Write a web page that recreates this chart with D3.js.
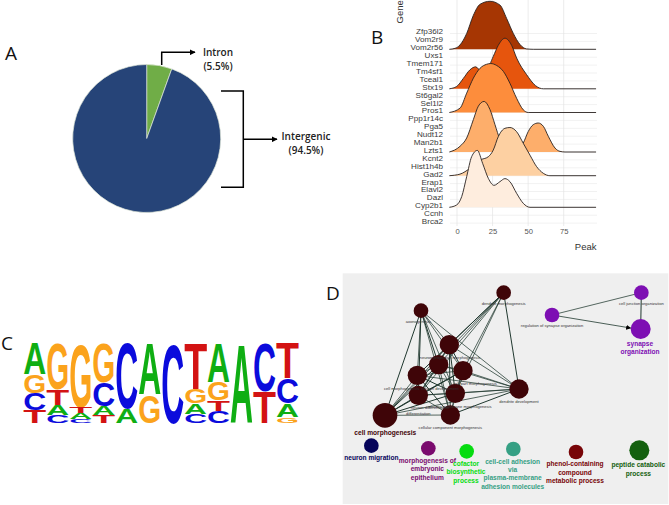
<!DOCTYPE html>
<html><head><meta charset="utf-8">
<script src="https://cdn.jsdelivr.net/npm/d3@7"></script>
<style>html,body{margin:0;padding:0;background:#fff}svg{display:block}</style>
</head><body><svg id="c" width="669" height="505"></svg>
<script>
// ---------- Panel A
const pieNames = ["Intron","Intergenic"];
const pieValues = [5.5,94.5];
const pieColors = ["#70ad47","#264478"];
// ---------- Panel B
const genes = ["Zfp36l2","Vom2r9","Vom2r56","Uxs1","Tmem171","Tm4sf1","Tceal1","Stx19","St6gal2","Sel1l2","Pros1","Ppp1r14c","Pga5","Nudt12","Man2b1","Lzts1","Kcnt2","Hist1h4b","Gad2","Erap1","Elavl2","Dazl","Cyp2b1","Ccnh","Brca2"];
const peakTicks = [0,25,50,75];
const ridgeGenes = ["Vom2r56","Stx19","Pros1","Lzts1","Gad2","Cyp2b1"];
const ridgeColors = ["#a63603","#e6550d","#fd8d3c","#fdae6b","#fdd0a2","#feedde"];
const ridgeVom2r56 = [[-5.4,0],[-1.4,.12],[2.1,.55],[6.8,2],[11.5,4.3],[16.2,5.7],[23.2,6.08],[30.2,5.6],[34.9,3.9],[39.6,2],[44.3,.6],[48.9,.05],[53.6,0],[97.7,0]];
const ridgeStx19 = [[-5.4,0],[-.2,.3],[4.4,1.3],[9.1,2.4],[13.1,2.78],[17.3,2.2],[20.8,2.4],[25.5,4.1],[29,5.5],[33.7,6.4],[38.4,5.5],[41.9,3.9],[48.9,1.8],[55.2,.4],[60.7,0],[97.7,0]];
const ridgePros1 = [[-5.4,0],[2.1,.55],[6.8,2.45],[11.5,4.35],[16.2,5.6],[20.8,6.1],[23.7,6.2],[27.9,5.95],[32.6,5.2],[37.2,3.7],[41.9,1.8],[46.6,.34],[50.1,0],[97.7,0]];
const ridgeLzts1 = [[-5.4,0],[2.1,.72],[6.8,1.77],[11.5,4.1],[15,5.8],[19,6.4],[23.2,5.36],[26.7,3.46],[30.2,1.56],[34.9,.3],[41.9,.08],[46.6,1.14],[50.1,2.6],[53.6,3.46],[57.1,3.67],[60.7,3.25],[64.2,1.98],[68.9,.5],[72.4,.08],[75.9,0],[97.7,0]];
const ridgeGad2 = [[-5.4,0],[2.1,.2],[9.1,.93],[16.2,1.98],[22,2.4],[25.5,3.25],[29,4.94],[33.7,6],[37.2,6.1],[41.9,5.57],[46.6,4.1],[51.3,2.6],[56,1.14],[60.7,.3],[65.3,0],[97.7,0]];
const ridgeCyp2b1 = [[-5.4,0],[-.2,.3],[3.3,1.35],[6.8,3.88],[10.3,6.41],[14.3,7.2],[18,5.57],[22,3.67],[26,2.78],[30.2,3.25],[33.7,3.63],[37.2,3.25],[41.9,1.77],[46.6,.5],[51.3,0],[97.7,0]];
const ridgeSeries = [ridgeVom2r56,ridgeStx19,ridgePros1,ridgeLzts1,ridgeGad2,ridgeCyp2b1];
// ---------- Panel C (each position, top to bottom: letter, fraction)
const logoColumns = [
 [["A",.40],["G",.23],["C",.21],["T",.16]],
 [["G",.58],["T",.20],["A",.13],["C",.09]],
 [["G",.80],["T",.08],["A",.08],["C",.04]],
 [["G",.50],["C",.29],["A",.11],["T",.10]],
 [["C",.82],["A",.18]],
 [["A",.65],["G",.35]],
 [["C",1]],
 [["T",.58],["G",.18],["A",.13],["C",.11]],
 [["A",.49],["G",.23],["T",.13],["C",.15]],
 [["A",1]],
 [["C",.61],["T",.39]],
 [["T",.44],["C",.32],["A",.17],["G",.07]]
];
const logoColors = {A:"#0fae13",C:"#0b0bdc",G:"#fba31c",T:"#d31313"};
// ---------- Panel D (layout units)
const nodeNames = ["dendrite morphogenesis","axonogenesis","neuron projection morphogenesis","neuron development","cell part morphogenesis","cell morphogenesis involved in neuron differentiation","neuron differentiation","plasma membrane bounded cell projection morphogenesis","dendrite development","cell morphogenesis","cellular component morphogenesis","regulation of synapse organization","cell junction organization","synapse organization","neuron migration","morphogenesis of embryonic epithelium","cofactor biosynthetic process","cell-cell adhesion via plasma-membrane adhesion molecules","phenol-containing compound metabolic process","peptide catabolic process"];
const nodeX = [491,243,328,296,369,232,235,346,537,135,331,636,904,902,94,265,380,520,708,898];
const nodeY = [68,122,224,284,302,316,376,370,357,436,435,135,68,177,527,535,544,537,546,541];
const nodeR = [22,22,29,29,29,29,29,29,29,37,29,22,22,30,22,22,22,22,22,30];
const nodeColors = ["#3f0508","#3f0508","#3f0508","#3f0508","#3f0508","#3f0508","#3f0508","#3f0508","#3f0508","#3f0508","#3f0508","#7d0fb3","#7d0fb3","#7d0fb3","#06045a","#7a0a6e","#06dc10","#36a084","#780508","#14600f"];
const edges = [[0,2],[0,3],[0,4],[0,5],[0,6],[0,7],[0,8],[0,9],[1,2],[1,3],[1,4],[1,5],[1,6],[1,7],[1,8],[1,9],[1,10],[2,3],[2,4],[2,5],[2,6],[2,7],[2,8],[2,9],[2,10],[3,4],[3,5],[3,6],[3,7],[3,8],[3,9],[3,10],[4,5],[4,6],[4,7],[4,8],[4,9],[4,10],[5,6],[5,7],[5,8],[5,9],[5,10],[6,7],[6,8],[6,9],[6,10],[7,8],[7,9],[7,10],[8,9],[8,10],[9,10],[11,12],[12,13]];
const arrowEdges = [[11,13]];
const smallLabels = [["dendrite morphogenesis",491,100],["axonogenesis",235,153],["neuron projection morphogenesis",330,262],["cell morphogenesis",185,355],["neuron development",300,355],["cell part morphogenesis",405,341],["plasma membrane morphogenesis",360,409],["differentiation",235,430],["neuron differentiation",270,413],["dendrite development",537,395],["cellular component morphogenesis",331,472],["regulation of synapse organization",636,166],["cell junction organization",904,100]];
const boldLabels = [
 [["cell morphogenesis"],136,[487],"#3f0508"],
 [["neuron migration"],94,[563],"#06045a"],
 [["morphogenesis of","embryonic","epithelium"],262,[572,597,622],"#7a0a6e"],
 [["cofactor","biosynthetic","process"],378,[581,606,631],"#06dc10"],
 [["cell-cell adhesion","via","plasma-membrane","adhesion molecules"],518,[574,599,624,649],"#36a084"],
 [["phenol-containing","compound","metabolic process"],705,[582,607,632],"#780508"],
 [["peptide catabolic","process"],895,[585,610],"#14600f"],
 [["synapse","organization"],900,[221,246],"#7d0fb3"]
];

const svg = d3.select("#c");
const sans = "'Liberation Sans',Arial,sans-serif";
const defs = svg.append("defs");
function marker(id,size){
  defs.append("marker").attr("id",id).attr("viewBox","0 0 10 10").attr("refX",9).attr("refY",5)
    .attr("markerUnits","userSpaceOnUse").attr("markerWidth",size).attr("markerHeight",size).attr("orient","auto")
    .append("path").attr("d","M0,0L10,5L0,10Z").attr("fill","#000");
}
marker("ah",6); marker("ah2",5);
function letter(t,x,y){svg.append("text").text(t).attr("x",x).attr("y",y).attr("font-family","'Open Sans',sans-serif").attr("font-size",19).attr("fill","#111");}
letter("A",5,60);letter("B",371,44);letter("C",1,350);letter("D",326,300);

// ---- A
const gA = svg.append("g").attr("transform","translate(146.7,138.5)");
gA.selectAll("path").data(d3.pie().sort(null)(pieValues)).join("path")
  .attr("d",d3.arc().innerRadius(0).outerRadius(74)).attr("fill",(d,i)=>pieColors[i])
  .attr("stroke","#dfe6d8").attr("stroke-width",.7);
const ln = d3.line();
const bl = (pts,m)=>{const p=svg.append("path").attr("d",ln(pts)).attr("fill","none").attr("stroke","#000").attr("stroke-width",1.5);if(m)p.attr("marker-end",`url(#${m})`);};
bl([[161.7,65],[161.7,52.3],[195,52.3]],"ah");
bl([[221,91],[243.3,91],[243.3,187.3],[221,187.3]]);
bl([[243.3,139.3],[277,139.3]],"ah");
[["Intron",218,56],["(5.5%)",218,70],["Intergenic",306,140],["(94.5%)",306,154]].forEach(([t,x,y])=>{
  svg.append("text").text(t).attr("x",x).attr("y",y).attr("text-anchor","middle").attr("font-family","'Open Sans',sans-serif").attr("font-weight",600).attr("font-size",10).attr("fill","#222");
});

// ---- B
const xB = d3.scaleLinear().domain([0,75]).range([457,563.7]);
const yB = d3.scalePoint().domain(genes).range([33.5,223.1]);
const rowH = d3.scaleLinear().domain([0,1]).range([0,yB.step()]);
const gB = svg.append("g");
gB.append("g").selectAll("line").data(genes).join("line")
  .attr("x1",450).attr("x2",597).attr("y1",d=>yB(d)).attr("y2",d=>yB(d)).attr("stroke","#e8e8e8").attr("stroke-width",.6);
gB.append("g").selectAll("line").data(peakTicks).join("line")
  .attr("x1",d=>xB(d)).attr("x2",d=>xB(d)).attr("y1",0).attr("y2",226).attr("stroke","#e2e2e2").attr("stroke-width",.7);
ridgeSeries.forEach((s,i)=>{
  const base = yB(ridgeGenes[i]);
  const area = d3.area().x(d=>xB(d[0])).y0(base).y1(d=>base-rowH(d[1])).curve(d3.curveMonotoneX);
  const line = d3.line().x(d=>xB(d[0])).y(d=>base-rowH(d[1])).curve(d3.curveMonotoneX);
  gB.append("path").attr("d",area(s)).attr("fill",ridgeColors[i]);
  gB.append("path").attr("d",line(s)).attr("fill","none").attr("stroke","#2a2320").attr("stroke-width",.9);
});
const axL = gB.append("g").attr("transform","translate(445,0)").call(d3.axisLeft(yB).tickSize(0).tickPadding(2));
axL.select(".domain").remove();
axL.selectAll("text").attr("font-family",sans).attr("font-size",8.1).attr("fill","#3a3a3a").attr("dy","0.05em");
const axB = gB.append("g").attr("transform","translate(0,226)").call(d3.axisBottom(xB).tickValues(peakTicks).tickSize(0).tickPadding(3));
axB.select(".domain").remove();
axB.selectAll("text").attr("font-family",sans).attr("font-size",7.6).attr("fill","#555");
svg.append("text").text("Peak").attr("x",596.5).attr("y",249.5).attr("text-anchor","end").attr("font-family",sans).attr("font-size",9.5).attr("fill","#333");
svg.append("text").text("Gene").attr("transform","translate(403,23.5) rotate(-90)").attr("font-family",sans).attr("font-size",9.5).attr("fill","#333");

// ---- C
const xC = d3.scaleBand().domain(d3.range(logoColumns.length)).range([23.3,299]);
const yC = d3.scaleLinear().domain([0,1]).range([0,80.3]);
const gC = svg.append("g").attr("font-family",sans).attr("font-weight",700).attr("font-size",100);
logoColumns.forEach((col,i)=>{
  let top = 342.3;
  col.forEach(([ch,f])=>{
    const h = yC(f);
    const t = gC.append("text").text(ch).attr("fill",logoColors[ch]).attr("text-anchor","middle");
    const w = t.node().getComputedTextLength();
    t.attr("transform",`translate(${xC(i)+xC.bandwidth()/2},${top+h}) scale(${xC.bandwidth()/w*1.0},${h/71.6})`);
    top += h;
  });
});

// ---- D
svg.append("rect").attr("x",342.7).attr("y",273.3).attr("width",325.6).attr("height",230.7).attr("fill","#efefef");
const xD = d3.scaleLinear().domain([0,987]).range([340,669]);
const yD = d3.scaleLinear().domain([0,705]).range([270,505]);
const rD = d3.scaleLinear().domain([0,987]).range([0,329]);
const gD = svg.append("g");
gD.append("g").selectAll("line").data(edges).join("line")
  .attr("x1",d=>xD(nodeX[d[0]])).attr("y1",d=>yD(nodeY[d[0]]))
  .attr("x2",d=>xD(nodeX[d[1]])).attr("y2",d=>yD(nodeY[d[1]]))
  .attr("stroke","#20382f").attr("stroke-width",(d,i)=>i%3==0?1:.75);
gD.append("g").selectAll("line").data(arrowEdges).join("line")
  .attr("x1",d=>xD(nodeX[d[0]])).attr("y1",d=>yD(nodeY[d[0]]))
  .attr("x2",d=>xD(nodeX[d[1]])-rD(nodeR[d[1]])).attr("y2",d=>yD(nodeY[d[1]])-1)
  .attr("stroke","#20382f").attr("stroke-width",.8).attr("marker-end","url(#ah2)");
gD.append("g").selectAll("circle").data(nodeNames).join("circle")
  .attr("cx",(d,i)=>xD(nodeX[i])).attr("cy",(d,i)=>yD(nodeY[i])).attr("r",(d,i)=>rD(nodeR[i])).attr("fill",(d,i)=>nodeColors[i]);
gD.append("g").selectAll("text").data(smallLabels).join("text").text(d=>d[0])
  .attr("x",d=>xD(d[1])).attr("y",d=>yD(d[2])+1.5).attr("text-anchor","middle")
  .attr("font-family",sans).attr("font-size",4.1).attr("fill","#333");
boldLabels.forEach(([lines,x,ys,c])=>{
  lines.forEach((t,i)=>{
    gD.append("text").text(t).attr("x",xD(x)).attr("y",yD(ys[i])+2.4).attr("text-anchor","middle")
      .attr("font-family",sans).attr("font-weight",700).attr("font-size",6.6).attr("fill",c);
  });
});
</script></body></html>
